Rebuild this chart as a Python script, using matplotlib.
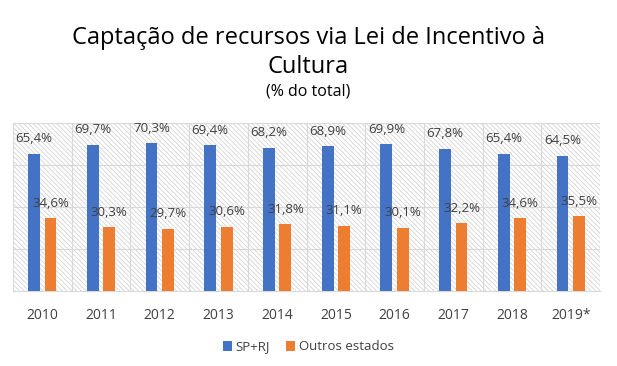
import matplotlib.pyplot as plt
from matplotlib.patches import Rectangle
import numpy as np

anos = ['2010', '2011', '2012', '2013', '2014', '2015', '2016', '2017', '2018', '2019*']
sp_rj = [65.4, 69.7, 70.3, 69.4, 68.2, 68.9, 69.9, 67.8, 65.4, 64.5]
outros = [34.6, 30.3, 29.7, 30.6, 31.8, 31.1, 30.1, 32.2, 34.6, 35.5]

azul = '#4472C4'
laranja = '#ED7D31'
cinza = '#404040'

plt.rcParams['font.family'] = ['Open Sans', 'DejaVu Sans']
plt.rcParams['hatch.linewidth'] = 0.5

fig = plt.figure(figsize=(6.17, 3.66), dpi=100)
ax = fig.add_axes([13/617, 1 - 291/366, 587/617, 168/366])

# fundo hachurado
ax.add_patch(Rectangle((0, 0), 1, 1, transform=ax.transAxes, facecolor='white',
                       edgecolor='#cccccc', linewidth=0, hatch='\\' * 7, zorder=0))

x = np.arange(len(anos))
ax.bar(x - 0.14, sp_rj, 0.2, color=azul, label='SP+RJ', zorder=3)
ax.bar(x + 0.14, outros, 0.2, color=laranja, label='Outros estados', zorder=3)

for i in range(len(anos)):
    ax.text(x[i] - 0.14, sp_rj[i] + 4, f'{sp_rj[i]:.1f}%'.replace('.', ','),
            ha='center', va='bottom', fontsize=9.5, color=cinza, zorder=4)
    ax.text(x[i] + 0.14, outros[i] + 4, f'{outros[i]:.1f}%'.replace('.', ','),
            ha='center', va='bottom', fontsize=9.5, color=cinza, zorder=4)

ax.set_xlim(-0.5, len(anos) - 0.5)
ax.set_ylim(0, 80)
ax.set_yticks([0, 20, 40, 60, 80])
ax.set_yticklabels([])
ax.set_xticks(x)
ax.set_xticklabels(anos, fontsize=10, color=cinza)
ax.tick_params(length=0, axis='both', pad=12)
ax.set_xticks(np.arange(len(anos) + 1) - 0.5, minor=True)
ax.tick_params(which='minor', length=0)
ax.grid(axis='y', which='major', color='#d9d9d9', linewidth=0.8, zorder=1)
ax.grid(axis='x', which='minor', color='#d9d9d9', linewidth=0.8, zorder=1)
ax.set_axisbelow(True)
for s in ax.spines.values():
    s.set_visible(False)
ax.spines['bottom'].set_visible(True)
ax.spines['bottom'].set_color('#d9d9d9')

fig.text(0.5, 1 - 38/366, 'Captação de recursos via Lei de Incentivo à',
         ha='center', va='center', fontsize=17, color='black')
fig.text(0.5, 1 - 67/366, 'Cultura', ha='center', va='center', fontsize=17, color='black')
fig.text(0.5, 1 - 92/366, '(% do total)', ha='center', va='center', fontsize=11.5, color='black')

fig.legend(loc='center', bbox_to_anchor=(0.5, 1 - 347/366), ncol=2, frameon=False,
           fontsize=9.5, handlelength=0.7, handleheight=0.7, handletextpad=0.3,
           columnspacing=1.2, labelcolor=cinza)

fig.savefig('out.png', dpi=100)
